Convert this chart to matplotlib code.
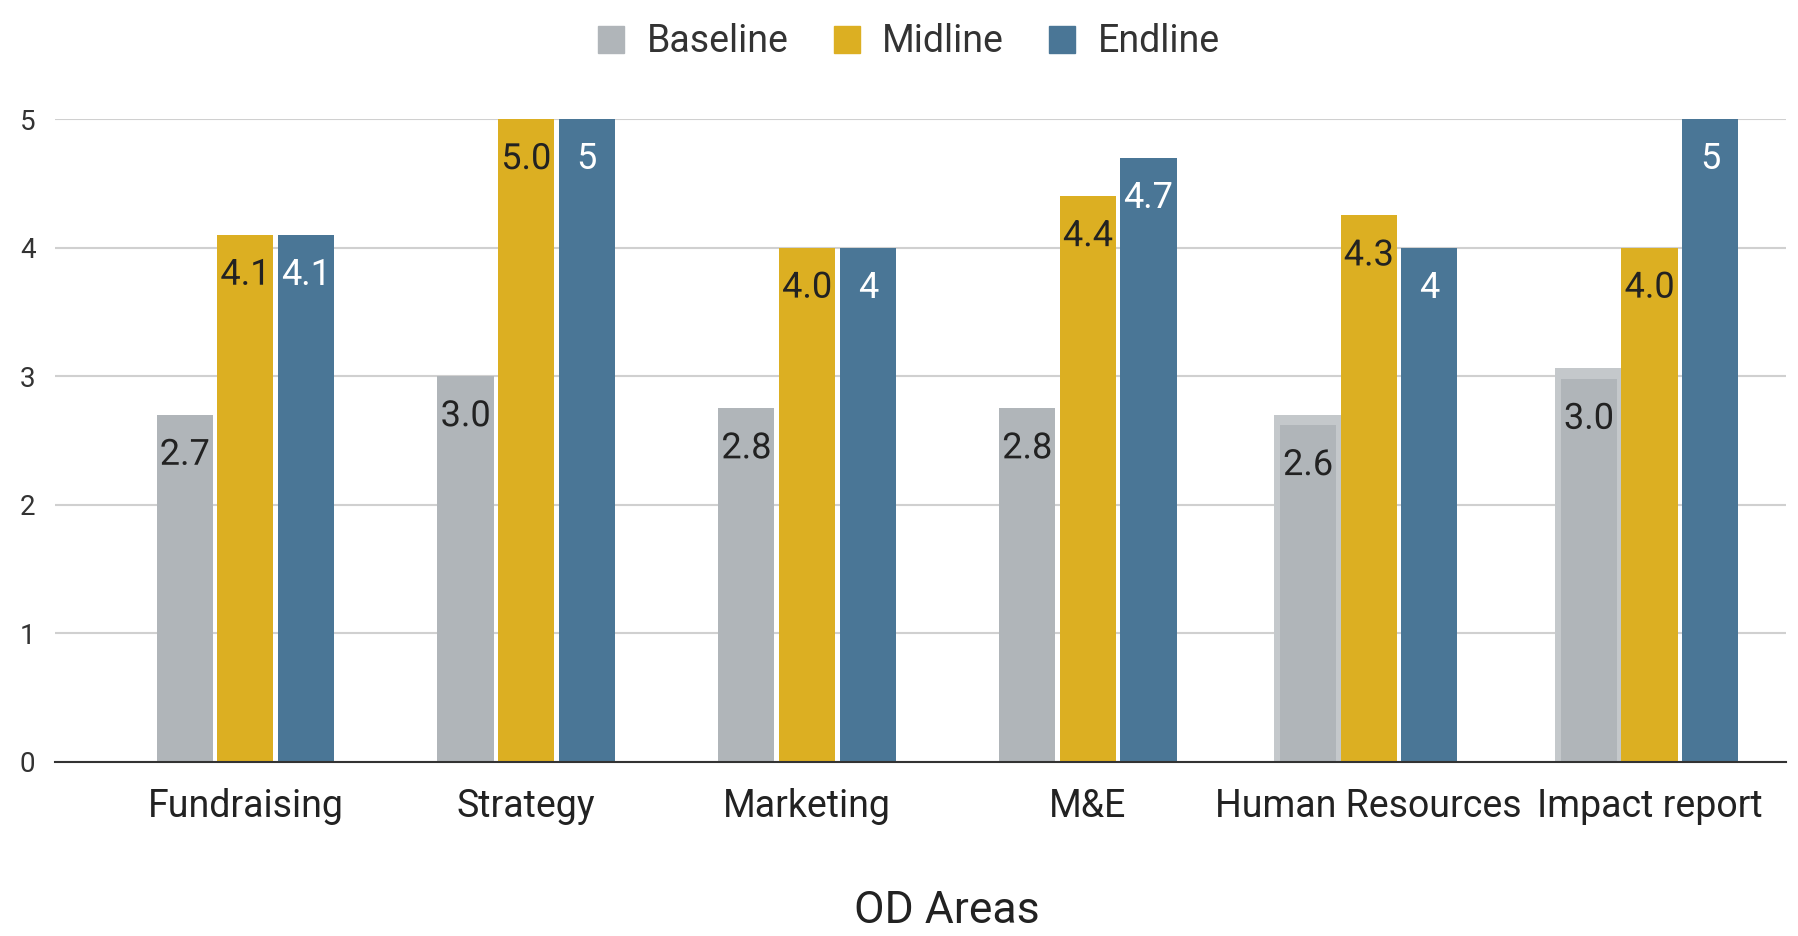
import numpy as np
import matplotlib.pyplot as plt
import matplotlib.patheffects as pe
from matplotlib.patches import Patch

plt.rcParams['font.family'] = ['Roboto', 'DejaVu Sans']

areas = ["Fundraising", "Strategy", "Marketing", "M&E", "Human Resources", "Impact report"]
baseline = [2.7, 3.0, 2.75, 2.75, 2.62, 2.98]
midline = [4.1, 5.0, 4.0, 4.4, 4.25, 4.0]
endline = [4.1, 5, 4, 4.7, 4, 5]
baseline_lbl = ["2.7", "3.0", "2.8", "2.8", "2.6", "3.0"]
midline_lbl = ["4.1", "5.0", "4.0", "4.4", "4.3", "4.0"]
endline_lbl = ["4.1", "5", "4", "4.7", "4", "5"]

c_base = "#b0b5b9"
c_mid = "#dcaf22"
c_end = "#4a7696"

fig = plt.figure(figsize=(17.98, 9.36), dpi=100)
ax = fig.add_axes([55 / 1798, 174 / 936, 1731 / 1798, 643 / 936])

x = np.arange(len(areas))
w = 0.2
step = 0.216
series = [
    (baseline, baseline_lbl, c_base, "#222222", "Baseline", -step),
    (midline, midline_lbl, c_mid, "#222222", "Midline", 0),
    (endline, endline_lbl, c_end, "white", "Endline", step),
]
for vals, lbls, col, tcol, name, off in series:
    bars = ax.bar(x + off, vals, w, color=col, zorder=3)
    for b, v, t in zip(bars, vals, lbls):
        txt = ax.annotate(t, (b.get_x() + b.get_width() / 2, v), xytext=(0, -36),
                          textcoords="offset pixels", ha="center", va="center_baseline",
                          fontsize=26, color=tcol, zorder=5)
        if tcol != "white":
            txt.set_path_effects([pe.withStroke(linewidth=3, foreground=col)])

# highlighted outline on two baseline bars
for i in [4, 5]:
    ax.bar(x[i] - step, baseline[i] + 0.08, w + 0.04, color="#c4c8cb", zorder=2)

ax.set_xlim(-0.678, 5.486)
ax.set_ylim(0, 5)
ax.set_yticks(range(6))
ax.set_xticks(x)
ax.set_xticklabels(areas, fontsize=27)
ax.tick_params(axis="y", labelsize=20, length=0, pad=14, colors="#333333")
ax.tick_params(axis="x", length=0, pad=19, colors="#222222")
ax.grid(axis="y", color="#d0d0d0", linewidth=1.5, zorder=0)
for s in ["top", "right", "left"]:
    ax.spines[s].set_visible(False)
ax.spines["bottom"].set_color("#333333")
ax.spines["bottom"].set_linewidth(1.5)
ax.spines["bottom"].set_zorder(6)

ax.set_xlabel("OD Areas", fontsize=32, color="#222222", va="center")
ax.xaxis.set_label_coords(0.515, -0.232)

handles = [Patch(color=c_base, label="Baseline"), Patch(color=c_mid, label="Midline"),
           Patch(color=c_end, label="Endline")]
fig.legend(handles=handles, loc="center", bbox_to_anchor=(909 / 1798, 1 - 42 / 936), ncol=3,
           frameon=False, fontsize=27, handlelength=0.7, handleheight=0.7,
           columnspacing=1.2, handletextpad=0.6, labelcolor="#333333")

fig.savefig("out.png", dpi=100)
